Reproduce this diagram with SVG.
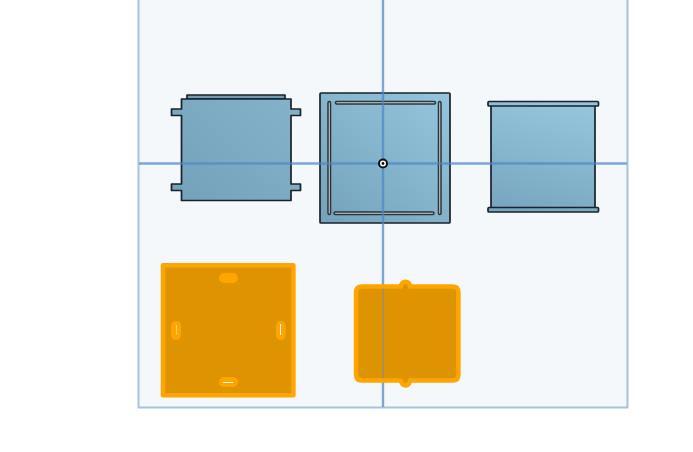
<svg xmlns="http://www.w3.org/2000/svg" width="693" height="452" viewBox="0 0 693 452">
<style>
.part{stroke:#182228;stroke-width:1.700;stroke-linejoin:round}
.slot{fill:#d4d8d8;stroke:#2a3338;stroke-width:1.500}
.sel{fill:#de9400;stroke:#ffa500;stroke-width:4.500;stroke-linejoin:round}
.blob{fill:#ffa500}
.cut{stroke:#fff;stroke-width:1;fill:none}
.axis{stroke:#4f86c6;stroke-width:2.400;opacity:.72;fill:none}
</style>
<defs>
<linearGradient id="steel-a" gradientUnits="userSpaceOnUse" x1="290" y1="95" x2="185" y2="205">
<stop offset="0" stop-color="#83b2ca"/><stop offset="1" stop-color="#75a2bb"/>
</linearGradient>
<linearGradient id="steel-b" gradientUnits="userSpaceOnUse" x1="450" y1="93" x2="340" y2="225">
<stop offset="0" stop-color="#95c5de"/><stop offset="1" stop-color="#76a4bd"/>
</linearGradient>
<linearGradient id="steel-c" gradientUnits="userSpaceOnUse" x1="560" y1="100" x2="530" y2="212">
<stop offset="0" stop-color="#95c5dd"/><stop offset="1" stop-color="#79a7c1"/>
</linearGradient>
</defs>
<rect width="693" height="452" fill="#fff"/>
<rect id="frame" x="138.500" y="-2" width="489" height="409.500" fill="#f4f8fb" stroke="#a5c2e0" stroke-width="2"/>
<g id="part-a">
<path class="part" fill="#6f9cb4" d="M187 99V95H285V99Z"/>
<path class="part" fill="url(#steel-a)" d="M181.500 99H291V109H300.500V115.500H291V184H300.500V190.500H291V200.500H181.500V190.500H171.500V184H181.500V115.500H171.500V109H181.500Z"/>
</g>
<g id="part-b">
<rect class="part" fill="url(#steel-b)" x="320" y="93" width="130" height="130" rx="1"/>
<rect class="slot" x="335.500" y="101.500" width="100" height="2.500" rx="1.200"/>
<rect class="slot" x="334" y="212" width="100" height="2.500" rx="1.200"/>
<rect class="slot" x="328" y="101.500" width="2.500" height="113" rx="1.200"/>
<rect class="slot" x="438.500" y="101.500" width="2.500" height="113" rx="1.200"/>
</g>
<g id="part-c">
<rect class="part" fill="url(#steel-c)" x="491" y="105" width="104" height="103"/>
<rect class="part" fill="url(#steel-c)" x="488" y="101.500" width="110.500" height="4.500" rx="1"/>
<rect class="part" fill="url(#steel-c)" x="488" y="207.500" width="110.500" height="4.500" rx="1"/>
</g>
<g id="connectors">
<path class="axis" d="M139 163.500H627M383 0V407"/>
</g>
<g id="origin">
<circle cx="383" cy="163.500" r="4" fill="#fff" stroke="#111" stroke-width="2"/>
<circle cx="383" cy="163.500" r="1.400" fill="#111"/>
</g>
<g id="sel-a">
<rect class="sel" x="163" y="265.300" width="130.400" height="129.900"/>
<rect class="blob" x="219" y="273" width="19" height="10" rx="5"/>
<rect class="blob" x="219" y="377" width="19" height="10" rx="5"/>
<rect class="blob" x="171" y="321" width="10" height="19" rx="5"/>
<rect class="blob" x="276" y="321" width="9.500" height="19" rx="4.700"/>
<path class="cut" d="M223 382.500H233M280.500 324V335"/>
<path d="M176.500 325V335" stroke="#ffd27a" fill="none"/>
</g>
<g id="sel-b">
<path class="sel" d="M362 286.500H401C401 280 410 280 410 286.500H452.500Q458.400 286.500 458.400 292.500V374.500Q458.400 380.500 452.500 380.500H410C410 387 401 387 401 380.500H362Q356 380.500 356 374.500V292.500Q356 286.500 362 286.500Z"/>
<path d="M383 288.800V378.300" stroke="#5b8fcb" stroke-width="2" opacity=".4" fill="none"/>
</g>
</svg>
